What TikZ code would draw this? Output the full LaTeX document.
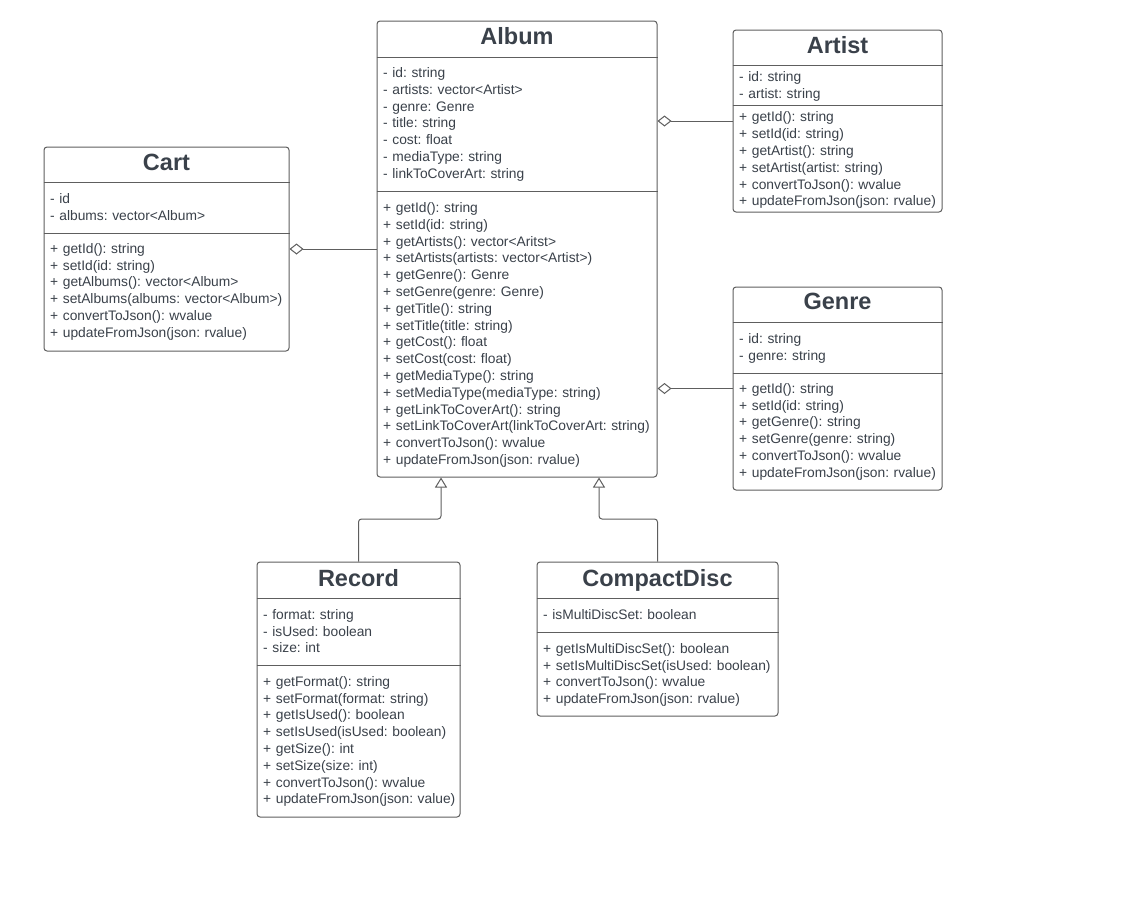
\documentclass[tikz,border=0pt]{standalone}
\usepackage{fontspec}
\setmainfont{Liberation Sans}
\usetikzlibrary{arrows.meta}
\frenchspacing
\definecolor{linec}{HTML}{5E5E5E}
\definecolor{textc}{HTML}{3A414A}
\tikzset{
 cls/.style={draw=linec, line width=1pt, rounded corners=3pt, fill=white, inner sep=0pt},
 ttl/.style={font=\bfseries\fontsize{23.5}{28}\selectfont, text=textc, anchor=base, inner sep=0pt},
 txt/.style={font=\fontsize{13.8}{16.8}\selectfont\frenchspacing, text=textc, anchor=base west, inner sep=0pt, align=left, text width=280pt},
 sep/.style={draw=linec, line width=1pt},
 agg/.style={draw=linec, line width=1pt, {Diamond[open,length=14pt,width=11pt]}-},
 inh/.style={draw=linec, line width=1pt, rounded corners=3pt, -{Triangle[open,length=10pt,width=12pt]}},
}
\begin{document}
\begin{tikzpicture}[x=1pt,y=-1pt]
\useasboundingbox[fill=white] (0,0) rectangle (1125,900);

% ---------- Album ----------
\node[cls, minimum width=280pt, minimum height=456pt] (album) at (517,249) {};
\draw[sep] (album.west |- 0,57) -- (album.east |- 0,57);
\draw[sep] (album.west |- 0,191) -- (album.east |- 0,191);
\node[ttl] (albumT) at (517,44.5) {Album};
\node[txt] (albumA) at (383,77.5) {- id: string\\- artists: vector<Artist>\\- genre: Genre\\- title: string\\- cost: float\\- mediaType: string\\- linkToCoverArt: string};
\node[txt] (albumM) at (383,212.5) {+ getId(): string\\+ setId(id: string)\\+ getArtists(): vector<Aritst>\\+ setArtists(artists: vector<Artist>)\\+ getGenre(): Genre\\+ setGenre(genre: Genre)\\+ getTitle(): string\\+ setTitle(title: string)\\+ getCost(): float\\+ setCost(cost: float)\\+ getMediaType(): string\\+ setMediaType(mediaType: string)\\+ getLinkToCoverArt(): string\\+ setLinkToCoverArt(linkToCoverArt: string)\\+ convertToJson(): wvalue\\+ updateFromJson(json: rvalue)};

% ---------- Artist ----------
\node[cls, minimum width=209pt, minimum height=182pt] (artist) at (837.5,121) {};
\draw[sep] (artist.west |- 0,65.5) -- (artist.east |- 0,65.5);
\draw[sep] (artist.west |- 0,105.5) -- (artist.east |- 0,105.5);
\node[ttl] (artistT) at (837.5,53.5) {Artist};
\node[txt] (artistA) at (739,81.3) {- id: string\\- artist: string};
\node[txt] (artistM) at (739,121.8) {+ getId(): string\\+ setId(id: string)\\+ getArtist(): string\\+ setArtist(artist: string)\\+ convertToJson(): wvalue\\+ updateFromJson(json: rvalue)};

% ---------- Genre ----------
\node[cls, minimum width=209pt, minimum height=203pt] (genre) at (837.5,388.5) {};
\draw[sep] (genre.west |- 0,322) -- (genre.east |- 0,322);
\draw[sep] (genre.west |- 0,373) -- (genre.east |- 0,373);
\node[ttl] (genreT) at (837.5,309.5) {Genre};
\node[txt] (genreA) at (739,343.3) {- id: string\\- genre: string};
\node[txt] (genreM) at (739,393.3) {+ getId(): string\\+ setId(id: string)\\+ getGenre(): string\\+ setGenre(genre: string)\\+ convertToJson(): wvalue\\+ updateFromJson(json: rvalue)};

% ---------- Cart ----------
\node[cls, minimum width=245pt, minimum height=204pt] (cart) at (166.5,249) {};
\draw[sep] (cart.west |- 0,182) -- (cart.east |- 0,182);
\draw[sep] (cart.west |- 0,233) -- (cart.east |- 0,233);
\node[ttl] (cartT) at (166.5,170.5) {Cart};
\node[txt] (cartA) at (50,203.3) {- id\\- albums: vector<Album>};
\node[txt] (cartM) at (50,253.3) {+ getId(): string\\+ setId(id: string)\\+ getAlbums(): vector<Album>\\+ setAlbums(albums: vector<Album>)\\+ convertToJson(): wvalue\\+ updateFromJson(json: rvalue)};

% ---------- Record ----------
\node[cls, minimum width=203pt, minimum height=255pt] (record) at (358.5,689.5) {};
\draw[sep] (record.west |- 0,598) -- (record.east |- 0,598);
\draw[sep] (record.west |- 0,665) -- (record.east |- 0,665);
\node[ttl] (recordT) at (358.5,586.5) {Record};
\node[txt] (recordA) at (263,619.3) {- format: string\\- isUsed: boolean\\- size: int};
\node[txt] (recordM) at (263,686.3) {+ getFormat(): string\\+ setFormat(format: string)\\+ getIsUsed(): boolean\\+ setIsUsed(isUsed: boolean)\\+ getSize(): int\\+ setSize(size: int)\\+ convertToJson(): wvalue\\+ updateFromJson(json: value)};

% ---------- CompactDisc ----------
\node[cls, minimum width=241pt, minimum height=154pt] (cd) at (657.5,639) {};
\draw[sep] (cd.west |- 0,598) -- (cd.east |- 0,598);
\draw[sep] (cd.west |- 0,632) -- (cd.east |- 0,632);
\node[ttl] (cdT) at (657.5,586.5) {CompactDisc};
\node[txt] (cdA) at (543,619.3) {- isMultiDiscSet: boolean};
\node[txt] (cdM) at (543,653.3) {+ getIsMultiDiscSet(): boolean\\+ setIsMultiDiscSet(isUsed: boolean)\\+ convertToJson(): wvalue\\+ updateFromJson(json: rvalue)};

% ---------- connectors ----------
\draw[agg] (cart.east) -- (cart.east -| album.west);
\draw[agg] (artist.west -| album.east) -- (artist.west);
\draw[agg] (genre.west -| album.east) -- (genre.west);
\coordinate (rbend) at (441,519);
\coordinate (cbend) at (599,519);
\draw[inh] (record.north) |- (rbend) -- (rbend |- album.south);
\draw[inh] (cd.north) |- (cbend) -- (cbend |- album.south);
\end{tikzpicture}
\end{document}
